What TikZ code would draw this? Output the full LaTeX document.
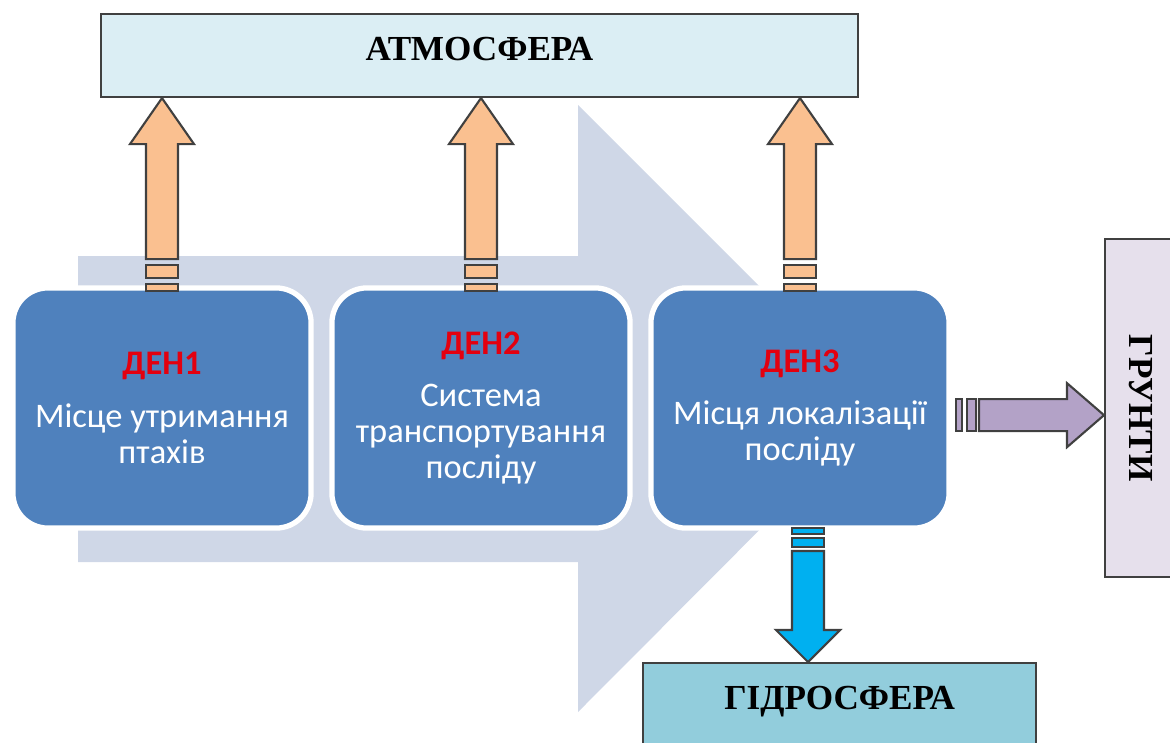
\documentclass[tikz,border=0pt]{standalone}
\usepackage{fontspec}
\setmainfont{Liberation Serif}
\newfontfamily\calibri{Carlito}
\usetikzlibrary{calc}

\definecolor{denblue}{HTML}{4F81BD}
\definecolor{denred}{HTML}{E3000F}
\definecolor{bigarrow}{HTML}{CFD7E7}
\definecolor{atmfill}{HTML}{DBEEF4}
\definecolor{gidfill}{HTML}{92CDDC}
\definecolor{gruntfill}{HTML}{E6E0EC}
\definecolor{orangeblk}{HTML}{FAC090}
\definecolor{purpleblk}{HTML}{B3A2C7}
\definecolor{blueblk}{HTML}{00B0F0}
\definecolor{edgegray}{HTML}{404040}

\tikzset{
  den/.style={draw=white, line width=1.5pt, fill=denblue, rounded corners=0.35cm,
    minimum width=2.98cm, minimum height=2.4cm, inner sep=1pt, align=center, text=white,
    font=\calibri\fontsize{9.8}{10.3}\selectfont},
  sphere/.style={draw=edgegray, line width=0.6pt, font=\bfseries\fontsize{10}{12}\selectfont},
  blk/.style={draw=edgegray, line width=0.6pt, line join=miter},
}

% up block arrow: #1 = tip, #2 = colour
\newcommand{\blockup}[2]{%
  \filldraw[blk, fill=#2] (#1) -- ++(32,46) -- ++(-16,0) -- ++(0,115) -- ++(-32,0)
    -- ++(0,-115) -- ++(-16,0) -- cycle;
  \filldraw[blk, fill=#2] ($(#1)+(-16,167)$) rectangle ($(#1)+(16,180)$);
  \filldraw[blk, fill=#2] ($(#1)+(-16,186)$) rectangle ($(#1)+(16,193)$);
}

\begin{document}
\begin{tikzpicture}[x=0.01cm, y=-0.01cm]
  \useasboundingbox (0,0) rectangle (1170,742);

  % big background arrow
  \fill[bigarrow] (78,256) -- (578,256) -- (578,105) -- (881,408) -- (578,712)
    -- (578,562) -- (78,562) -- cycle;

  % Nodes with manual coordinates
  \node[sphere, fill=atmfill, minimum width=7.57cm, minimum height=0.83cm,
    text depth=0.14cm] (atm) at (479.5,55.5) {АТМОСФЕРА};
  \node[sphere, fill=gidfill, minimum width=3.93cm, minimum height=0.9cm,
    anchor=north west, text depth=0.2cm] (gid) at (642,662) {ГІДРОСФЕРА};
  \node[sphere, fill=gruntfill, rotate=-90, minimum width=3.38cm, minimum height=0.9cm,
    anchor=south west, text height=0.42cm] (grunt) at (1104,238) {ГРУНТИ};

  \node[den] (den1) at (162,408)
    {\textcolor{denred}{\textbf{ДЕН1}}\\[0.16cm] Місце утримання\\ птахів};
  \node[den] (den2) at (481,408)
    {\textcolor{denred}{\textbf{ДЕН2}}\\[0.16cm] Система\\ транспортування\\ посліду};
  \node[den] (den3) at (800,408)
    {\textcolor{denred}{\textbf{ДЕН3}}\\[0.16cm] Місця локалізації\\ посліду};

  % Edges
  \blockup{den1.north |- atm.south}{orangeblk}
  \blockup{den2.north |- atm.south}{orangeblk}
  \blockup{den3.north |- atm.south}{orangeblk}

  % to the soil
  \coordinate (rt) at ($(grunt.south)+(0,7)$);
  \filldraw[blk, fill=purpleblk] (rt) -- ++(-37,-32) -- ++(0,16) -- ++(-88,0) -- ++(0,32)
    -- ++(88,0) -- ++(0,16) -- cycle;
  \filldraw[blk, fill=purpleblk] ($(rt)+(-137,-16)$) rectangle ($(rt)+(-128,16)$);
  \filldraw[blk, fill=purpleblk] ($(rt)+(-148,-16)$) rectangle ($(rt)+(-142,16)$);

  % to the water
  \coordinate (dt) at ($(den3.south |- gid.north)+(8,0)$);
  \filldraw[blk, fill=blueblk] (dt) -- ++(-32,-32) -- ++(16,0) -- ++(0,-79) -- ++(32,0)
    -- ++(0,79) -- ++(16,0) -- cycle;
  \filldraw[blk, fill=blueblk] ($(dt)+(-16,-124)$) rectangle ($(dt)+(16,-115)$);
  \filldraw[blk, fill=blueblk] ($(dt)+(-16,-134)$) rectangle ($(dt)+(16,-128)$);
\end{tikzpicture}
\end{document}
